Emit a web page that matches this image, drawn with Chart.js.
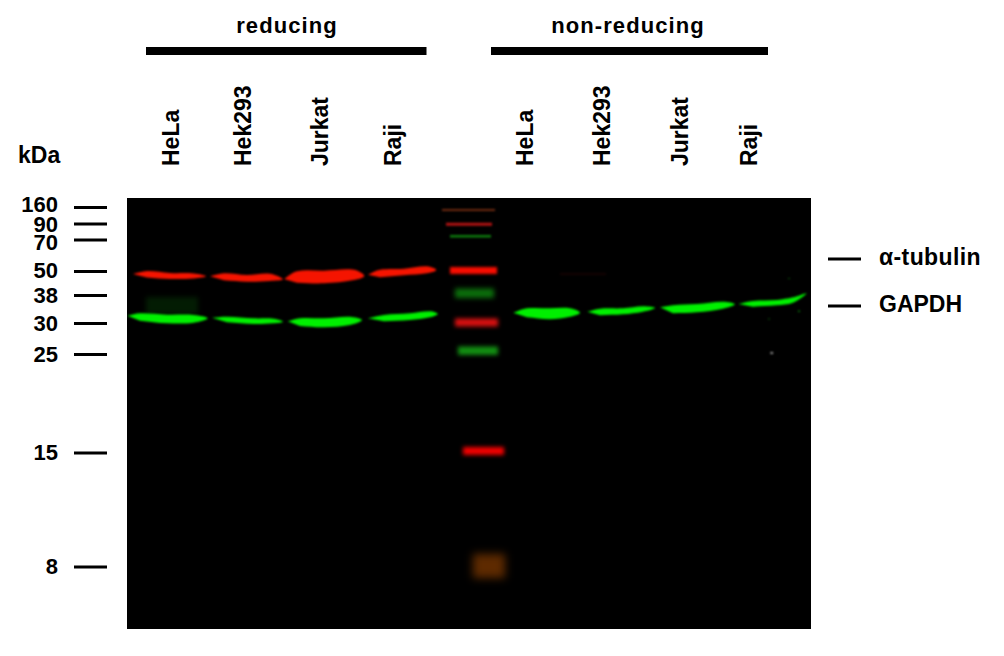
<!DOCTYPE html>
<html><head><meta charset="utf-8">
<style>html,body{margin:0;padding:0;background:#fff}canvas{display:block}#w{position:relative;width:1004px;height:656px}</style>
<script src="https://cdn.jsdelivr.net/npm/chart.js@4"></script></head>
<body><div id="w"><canvas id="c"></canvas></div>
<script>
// Axis labels
const kdaLabels = ['160','90','70','50','38','30','25','15','8'];
const kdaLabelPos = [206,225.5,243.5,272,297,324.5,356,454,568];
const kdaMarkPos = [207.5,224,240,271.5,295.5,323.5,354.5,453,567];
const laneLabels = ['HeLa','Hek293','Jurkat','Raji','HeLa','Hek293','Jurkat','Raji'];
const lanePos = [171,243,320,393,525,602,680,749];
const groupLabels = ['reducing','non-reducing'];
const groupCentres = [287,628];
const groupSpans = [[146,426.5],[491,768]];
const targetLabels = ['α-tubulin','GAPDH'];
const targetPos = [259,306];

// Lysate bands: rows of [position across gel, upper edge, lower edge]
const tubulinReducing = [
 [[133,274,274],[147,271,277.5],[170,273,279],[194,273.5,278.5],[206,276.3,276.3]],
 [[210,276.3,276.3],[224,273.3,280.3],[247,275,281.7],[270,273.7,281],[283,279.3,279.3]],
 [[284,279,279],[297,271.3,282.7],[324,270.7,283.3],[354,269.7,280],[364.3,276,276]],
 [[368,274.7,274.7],[380,269.7,277.3],[404,268.7,275.3],[427,266.3,273.3],[436.3,270,270]]
];
const gapdhReducing = [
 [[127.5,315.7,315.7],[140,313.3,320.7],[167,314.7,323.3],[194,315,322.7],[207.7,318.3,318.3]],
 [[212,317.7,317.7],[227,316.7,322.3],[254,318.3,324],[274,318.7,323.3],[283,321.7,321.7]],
 [[287.7,321.3,321.3],[300,318.3,326],[324,318.3,327.3],[350,316.7,325],[362,320,320]],
 [[367.7,318.3,318.3],[384,315,321.3],[410,313.3,320],[430,311.3,317.3],[437.7,314,314]]
];
const gapdhNonReducing = [
 [[513.3,312.7,312.7],[527,308.3,317.3],[550,308.3,319.3],[570,308.3,316.7],[580,312.7,312.7]],
 [[587.3,311.7,311.7],[600,308.7,315.3],[623,308.3,314.3],[643,306.3,311.7],[655,308,308]],
 [[660,307.3,307.3],[673,305.3,313.3],[697,304,312.3],[723,301.7,308.7],[735,304.3,304.3]],
 [[738.3,304,304],[753,301,306.7],[777,300,305.3],[793,297.3,302.7],[806.7,293.3,293.3]]
];
// Ladder lane: left, right, upper edge, lower edge, colour, softness
const ladderLeft   = [442,446,450,450,455,455,458,463,473];
const ladderRight  = [495,492,491,497,494,498,498,504,505];
const ladderUpper  = [209,222.8,235,267,288.5,318.5,346.5,447,554];
const ladderLower  = [211,225.8,237.5,274,298,326.5,355,455,578];
const ladderColours= ['#6e2a10','#b01212','#0d7d0d','#f80c00','#0b6e0b','#d81010','#128f12','#f40000','#5e2a00'];
const ladderBlur   = [0.8,0.9,0.9,1.5,2.4,2.2,2.2,2,4.5];
// Faint marks: left, right, upper, lower, colour
const faintLeft  = [146,560,770.5,788,798,768];
const faintRight = [198,606,773,790,800,770];
const faintUpper = [297,273.5,352,278,310.5,318.5];
const faintLower = [314,274.5,354,279,312,319.5];
const faintColours=['#031c03','#2a0505','#a0a0a0','#0a5a0a','#0a7a0a','#0a5a0a'];

function outline(rows){
  const top = rows.map(r=>({x:r[0],y:r[1]}));
  const bot = rows.slice(1,-1).reverse().map(r=>({x:r[0],y:r[2]}));
  return top.concat(bot);
}
function box(l,r,u,d){return [{x:l,y:u},{x:r,y:u},{x:r,y:d},{x:l,y:d}];}
function bandDs(data,color,blur,tension){
  return {data,showLine:true,fill:'shape',backgroundColor:color,borderWidth:0,pointRadius:0,tension,blur};
}
function markDs(x0,x1,y,w){
  return {data:[{x:x0,y},{x:x1,y}],showLine:true,fill:false,borderColor:'#000',borderWidth:w,pointRadius:0,clip:false,blur:0};
}
const sharp = [];
kdaMarkPos.forEach(y=>sharp.push(markDs(74,107,y,3)));
targetPos.forEach(y=>sharp.push(markDs(828,861,y,3)));
groupSpans.forEach(s=>sharp.push(markDs(s[0],s[1],51,8)));
const bands = [];
[...tubulinReducing].forEach(b=>bands.push(bandDs(outline(b),'#f51400',1.05,0.35)));
[...gapdhReducing,...gapdhNonReducing].forEach(b=>bands.push(bandDs(outline(b),'#00f000',1.05,0.35)));
kdaLabels.forEach((_,i)=>bands.push(bandDs(box(ladderLeft[i],ladderRight[i],ladderUpper[i],ladderLower[i]),ladderColours[i],ladderBlur[i],0)));
faintLeft.forEach((_,i)=>bands.push(bandDs(box(faintLeft[i],faintRight[i],faintUpper[i],faintLower[i]),faintColours[i],i==0?2.5:0.8,0)));
const datasets = sharp.concat(bands);

const softness = {
  id:'softness',
  beforeDatasetsDraw(chart){const m=chart.getSortedVisibleDatasetMetas();apply(chart,m[m.length-1]);},
  afterDatasetDraw(chart,args){const m=chart.getSortedVisibleDatasetMetas();const i=m.indexOf(args.meta);apply(chart,m[i-1]);},
  afterDatasetsDraw(chart){chart.ctx.filter='none';}
};
function apply(chart,meta){
  const b=meta?chart.data.datasets[meta.index].blur:0;
  chart.ctx.filter=b?`blur(${b}px)`:'none';
}
const paper = {
  id:'paper',
  beforeDraw(chart){
    const {ctx,chartArea:a}=chart;
    ctx.save();ctx.fillStyle='#fff';ctx.fillRect(0,0,chart.width,chart.height);
    ctx.fillStyle='#000';ctx.fillRect(a.left,a.top,a.right-a.left,a.bottom-a.top);ctx.restore();
  },
  afterDraw(chart){
    const {ctx,scales:{x,y}}=chart;
    ctx.save();ctx.fillStyle='#000';ctx.textBaseline='middle';
    ctx.font='bold 22px "Liberation Sans"';ctx.textAlign='center';
    ctx.letterSpacing='1.1px';
    groupLabels.forEach((t,i)=>ctx.fillText(t,x.getPixelForValue(groupCentres[i]),y.getPixelForValue(26.5)));
    ctx.letterSpacing='0px';
    ctx.textAlign='left';
    ctx.font='bold 23px "Liberation Sans"';
    ctx.fillText('kDa',x.getPixelForValue(18),y.getPixelForValue(156.5));
    targetLabels.forEach((t,i)=>{
      ctx.letterSpacing=i===0?'0.4px':'0px';
      ctx.fillText(t,x.getPixelForValue(879),y.getPixelForValue(targetPos[i]));
    });
    ctx.restore();
  }
};
const canvas=document.getElementById('c');
const ctx=canvas.getContext('2d',{alpha:false});
new Chart(ctx,{
  type:'scatter',
  data:{datasets},
  plugins:[paper,softness],
  options:{
    responsive:true,maintainAspectRatio:false,animation:false,devicePixelRatio:1,
    layout:{padding:{left:0,top:0,right:193,bottom:27}},
    plugins:{legend:{display:false},tooltip:{enabled:false},title:{display:false}},
    scales:{
      x:{type:'linear',position:'top',min:127,max:811,
        grid:{display:false},border:{display:false},
        afterBuildTicks(s){s.ticks=lanePos.map(value=>({value}));},
        afterFit(s){s.height=198;s.paddingLeft=0;s.paddingRight=0;},
        ticks:{autoSkip:false,minRotation:90,maxRotation:90,padding:24,labelOffset:29,color:'#000',
          font:{family:'"Liberation Sans"',size:23,weight:'bold'},
          callback:(v,i)=>laneLabels[i]}},
      y:{type:'linear',position:'left',reverse:true,min:198,max:629,
        grid:{display:false},border:{display:false},
        afterBuildTicks(s){s.ticks=kdaLabelPos.map(value=>({value}));},
        afterFit(s){s.width=127;s.paddingTop=0;s.paddingBottom=0;},
        ticks:{autoSkip:false,padding:61,color:'#000',
          font:{family:'"Liberation Sans"',size:22,weight:'bold'},
          callback:(v,i)=>kdaLabels[i]}}
    }
  }
});
</script></body></html>
